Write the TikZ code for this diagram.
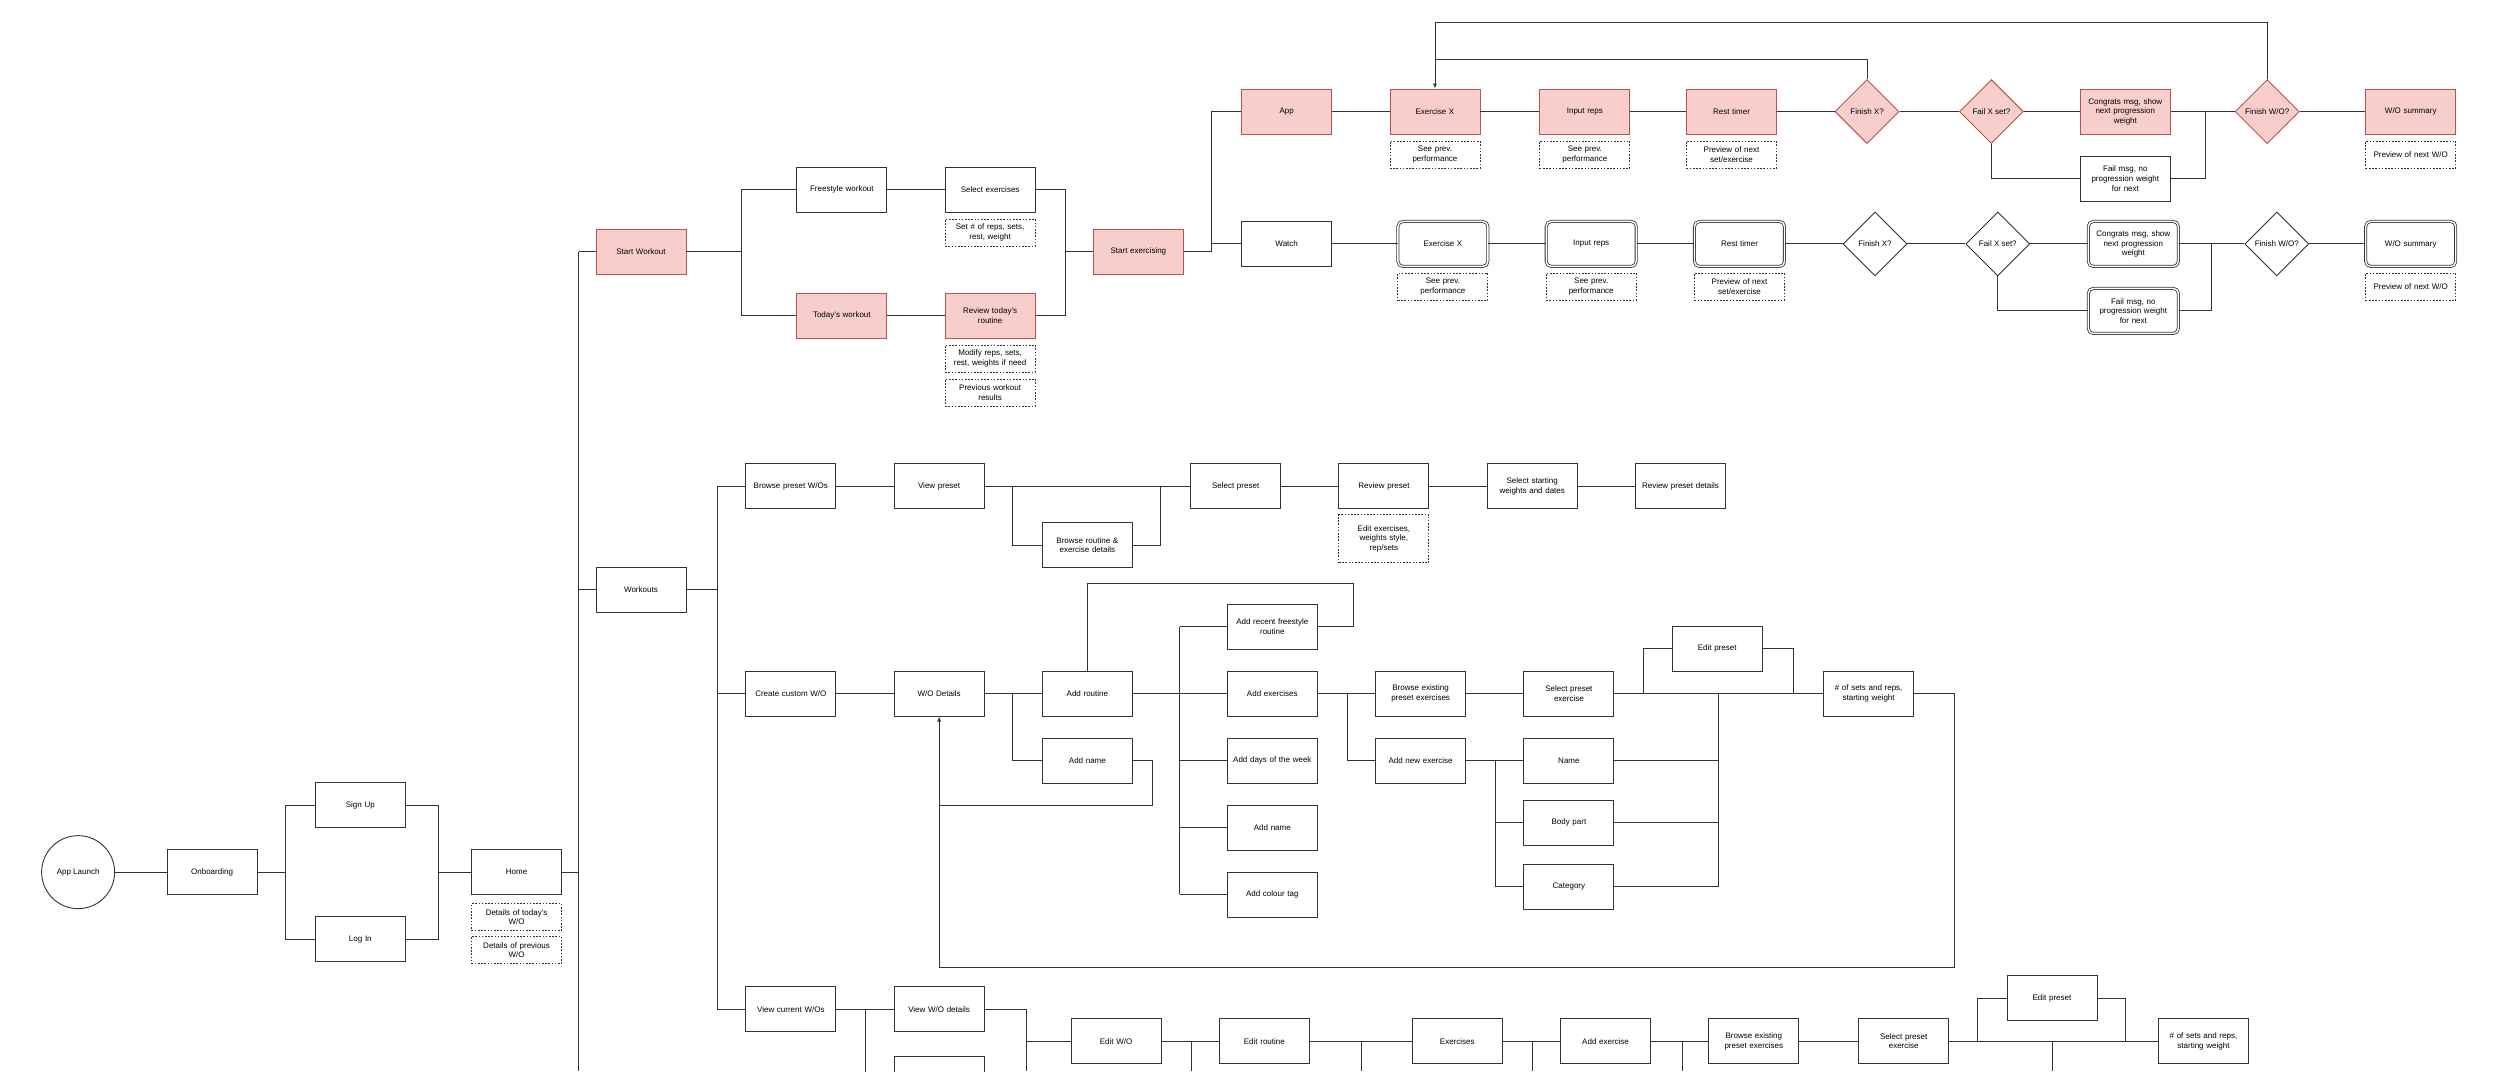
\documentclass[tikz,border=0pt]{standalone}
\usepackage{fontspec}
\setmainfont{Liberation Sans}
\usetikzlibrary{positioning}
\usetikzlibrary{shapes.geometric}
\usetikzlibrary{arrows.meta}

\definecolor{pinkfill}{HTML}{F8CECC}
\definecolor{pinkline}{HTML}{B85450}
\definecolor{linegray}{HTML}{333333}

\newcommand{\boxfont}{\fontsize{8}{9.6}\selectfont\hyphenpenalty=10000\relax\exhyphenpenalty=10000\relax}

\tikzset{
  box/.style={draw=linegray,fill=white,line width=0.9pt,minimum width=89pt,minimum height=45pt,inner sep=2pt,text width=86pt,align=center,font=\boxfont},
  pinkbox/.style={box,draw=pinkline,fill=pinkfill},
  dblbox/.style={box,double,double distance=1.4pt,line width=0.8pt,rounded corners=5pt},
  notebox/.style={box,dashed,dash pattern=on 1.6pt off 1.6pt,minimum height=27pt},
  decision/.style={draw=linegray,fill=white,line width=0.9pt,diamond,aspect=1,minimum width=64pt,minimum height=64pt,inner sep=0pt,font=\boxfont},
  pinkdecision/.style={decision,draw=pinkline,fill=pinkfill},
  link/.style={draw=linegray,line width=0.9pt},
}

\begin{document}
\begin{tikzpicture}[x=1.5944pt,y=-1.5944pt]
\useasboundingbox (0,0) rectangle (1568,672);
\begin{scope}
\clip (0,0) rectangle (1568,672);

% onboarding
\node[draw=linegray,line width=0.9pt,circle,minimum size=73pt,inner sep=0pt,font=\boxfont] (launch) at (49,547) {App Launch};
\node[box] (onb) at (133,547) {Onboarding};
\node[box] (signup) at (226,505) {Sign Up};
\node[box] (login) at (226,589) {Log In};
\node[box] (home) at (324,547) {Home};
\node[notebox,below=8pt of home] (homeA) {Details of today's\\W/O};
\node[notebox,below=5pt of homeA] (homeB) {Details of previous\\W/O};

% start workout
\node[pinkbox] (start) at (402,158) {Start Workout};
\node[box] (free) at (528,119) {Freestyle workout};
\node[pinkbox] (today) at (528,198) {Today's workout};
\node[box] (selex) at (621,119) {Select exercises};
\node[notebox,below=6pt of selex] (selexN) {Set \# of reps, sets,\\rest, weight};
\node[pinkbox] (revtoday) at (621,198) {Review today's\\routine};
\node[notebox,below=6pt of revtoday] (revN1) {Modify reps, sets,\\rest, weights if need};
\node[notebox,below=6pt of revN1] (revN2) {Previous workout\\results};
\node[pinkbox] (startex) at (714,158) {Start exercising};

% app row
\node[pinkbox] (app) at (807,70) {App};
\node[pinkbox] (exA) at (900,70) {Exercise X};
\node[notebox,below=6pt of exA] (exAN) {See prev.\\performance};
\node[pinkbox] (inA) at (994,70) {Input reps};
\node[notebox,below=6pt of inA] (inAN) {See prev.\\performance};
\node[pinkbox] (restA) at (1086,70) {Rest timer};
\node[notebox,below=6pt of restA] (restAN) {Preview of next\\set/exercise};
\node[pinkdecision] (finA) at (1171,70) {Finish X?};
\node[pinkdecision] (failA) at (1249,70) {Fail X set?};
\node[pinkbox] (congA) at (1333,70) {Congrats msg, show\\next progression\\weight};
\node[box] (fmsgA) at (1333,112) {Fail msg, no\\progression weight\\for next};
\node[pinkdecision] (fwoA) at (1422,70) {Finish W/O?};
\node[pinkbox] (sumA) at (1512,70) {W/O summary};
\node[notebox,below=6pt of sumA] (sumAN) {Preview of next W/O};

% watch row
\node[box] (watch) at (807,153) {Watch};
\node[dblbox] (exB) at (905,153) {Exercise X};
\node[notebox,below=6pt of exB] (exBN) {See prev.\\performance};
\node[dblbox] (inB) at (998,153) {Input reps};
\node[notebox,below=6pt of inB] (inBN) {See prev.\\performance};
\node[dblbox] (restB) at (1091,153) {Rest timer};
\node[notebox,below=6pt of restB] (restBN) {Preview of next\\set/exercise};
\node[decision] (finB) at (1176,153) {Finish X?};
\node[decision] (failB) at (1253,153) {Fail X set?};
\node[dblbox] (congB) at (1338,153) {Congrats msg, show\\next progression\\weight};
\node[dblbox] (fmsgB) at (1338,195) {Fail msg, no\\progression weight\\for next};
\node[decision] (fwoB) at (1428,153) {Finish W/O?};
\node[dblbox] (sumB) at (1512,153) {W/O summary};
\node[notebox,below=6pt of sumB] (sumBN) {Preview of next W/O};

% workouts
\node[box] (workouts) at (402,370) {Workouts};
\node[box] (bpre) at (496,305) {Browse preset W/Os};
\node[box] (vpre) at (589,305) {View preset};
\node[box] (broutine) at (682,342) {Browse routine \&\\exercise details};
\node[box] (spre) at (775,305) {Select preset};
\node[box] (rpre) at (868,305) {Review preset};
\node[notebox,below=5pt of rpre,minimum height=48pt] (rpreN) {Edit exercises,\\weights style,\\rep/sets};
\node[box] (sstart) at (961,305) {Select starting\\weights and dates};
\node[box] (rdet) at (1054,305) {Review preset details};

\node[box] (custom) at (496,435) {Create custom W/O};
\node[box] (wod) at (589,435) {W/O Details};
\node[box] (addr) at (682,435) {Add routine};
\node[box] (addn) at (682,477) {Add name};
\node[box] (arecent) at (798,393) {Add recent freestyle\\routine};
\node[box] (aex) at (798,435) {Add exercises};
\node[box] (adays) at (798,477) {Add days of the week};
\node[box] (aname) at (798,519) {Add name};
\node[box] (acol) at (798,561) {Add colour tag};
\node[box] (bexist) at (891,435) {Browse existing\\preset exercises};
\node[box] (anew) at (891,477) {Add new exercise};
\node[box] (spex) at (984,435) {Select preset\\exercise};
\node[box] (epre) at (1077,407) {Edit preset};
\node[box] (setsA) at (1172,435) {\# of sets and reps,\\starting weight};
\node[box] (nname) at (984,477) {Name};
\node[box] (nbody) at (984,516) {Body part};
\node[box] (ncat) at (984,556) {Category};

% view current
\node[box] (vcur) at (496,633) {View current W/Os};
\node[box] (vdet) at (589,633) {View W/O details};
\node[box] (vdup) at (589,677) {};
\node[box] (ewo) at (700,653) {Edit W/O};
\node[box] (erou) at (793,653) {Edit routine};
\node[box] (exs) at (914,653) {Exercises};
\node[box] (addex) at (1007,653) {Add exercise};
\node[box] (bexB) at (1100,653) {Browse existing\\preset exercises};
\node[box] (spexB) at (1194,653) {Select preset\\exercise};
\node[box] (epreB) at (1287,626) {Edit preset};
\node[box] (setsB) at (1382,653) {\# of sets and reps,\\starting weight};

% junctions
\coordinate (jOn) at (179,547);
\coordinate (jHome) at (275,547);
\coordinate (trTop) at (363,158);
\coordinate (trBot) at (363,672);
\coordinate (jStart) at (465,158);
\coordinate (jEx) at (668,158);
\coordinate (jApp) at (760,158);
\coordinate (jCongA) at (1383,70);
\coordinate (jCongB) at (1387,153);
\coordinate (loopTop) at (900,14);
\coordinate (loopMid) at (900,37);
\coordinate (jWork) at (450,370);
\coordinate (jView) at (635,305);
\coordinate (jBr) at (728,305);
\coordinate (jWod) at (635,435);
\coordinate (jName) at (723,505);
\coordinate (jBack) at (589,505);
\coordinate (jLoop) at (849,366);
\coordinate (jAdd) at (740,435);
\coordinate (jAex) at (845,435);
\coordinate (jEdit) at (1031,435);
\coordinate (jEdit2) at (1125,435);
\coordinate (jFields) at (1078,435);
\coordinate (jNew) at (938,477);
\coordinate (jSetsR) at (1226,607);
\coordinate (jCur) at (543,633);
\coordinate (jVdet) at (644,653);
\coordinate (jEwo) at (747,653);
\coordinate (jErou) at (854,653);
\coordinate (jExs) at (961,653);
\coordinate (jAddex) at (1055,653);
\coordinate (jEpB) at (1240,653);
\coordinate (jEpB2) at (1333,653);

% onboarding links
\draw[link] (launch) -- (onb);
\draw[link] (onb) -- (jOn);
\draw[link] (jOn) |- (signup);
\draw[link] (jOn) |- (login);
\draw[link] (signup) -| (jHome);
\draw[link] (login) -| (jHome);
\draw[link] (jHome) -- (home);
\draw[link] (home) -- (home -| trTop);
\draw[link] (trTop) -- (trBot);

% start workout links
\draw[link] (trTop) -- (start);
\draw[link] (start) -- (jStart);
\draw[link] (jStart) |- (free);
\draw[link] (jStart) |- (today);
\draw[link] (free) -- (selex);
\draw[link] (today) -- (revtoday);
\draw[link] (selex) -| (jEx);
\draw[link] (revtoday) -| (jEx);
\draw[link] (jEx) -- (startex);
\draw[link] (startex) -- (jApp);
\draw[link] (jApp) |- (app);
\draw[link] (jApp) |- (watch);

% app row links
\draw[link] (app) -- (exA);
\draw[link] (exA) -- (inA);
\draw[link] (inA) -- (restA);
\draw[link] (restA) -- (finA);
\draw[link] (finA) -- (failA);
\draw[link] (failA) -- (congA);
\draw[link] (failA.south) |- (fmsgA);
\draw[link] (congA) -- (jCongA);
\draw[link] (fmsgA) -| (jCongA);
\draw[link] (jCongA) -- (fwoA);
\draw[link] (fwoA) -- (sumA);
\draw[link,-{Latex[length=5pt,width=4pt]}] (fwoA.north) |- (loopTop) -- (exA.north);
\draw[link] (finA.north) |- (loopMid);

% watch row links
\draw[link] (watch) -- (exB);
\draw[link] (exB) -- (inB);
\draw[link] (inB) -- (restB);
\draw[link] (restB) -- (finB);
\draw[link] (finB) -- (failB);
\draw[link] (failB) -- (congB);
\draw[link] (failB.south) |- (fmsgB);
\draw[link] (congB) -- (jCongB);
\draw[link] (fmsgB) -| (jCongB);
\draw[link] (jCongB) -- (fwoB);
\draw[link] (fwoB) -- (sumB);

% workouts links
\draw[link] (workouts) -- (workouts -| trTop);
\draw[link] (workouts) -- (jWork);
\draw[link] (jWork |- bpre) -- (jWork |- vcur);
\draw[link] (jWork |- bpre) -- (bpre);
\draw[link] (jWork |- custom) -- (custom);
\draw[link] (jWork |- vcur) -- (vcur);

\draw[link] (bpre) -- (vpre);
\draw[link] (vpre) -- (spre);
\draw[link] (jView) |- (broutine);
\draw[link] (broutine) -| (jBr);
\draw[link] (spre) -- (rpre);
\draw[link] (rpre) -- (sstart);
\draw[link] (sstart) -- (rdet);

\draw[link] (custom) -- (wod);
\draw[link] (wod) -- (addr);
\draw[link] (jWod) |- (addn);
\draw[link] (addn) -| (jName) |- (jBack);
\draw[link,-{Latex[length=5pt,width=4pt]}] (wod |- jSetsR) -- (wod.south);
\draw[link] (addr.north) |- (jLoop) |- (arecent);
\draw[link] (addr) -- (aex);
\draw[link] (jAdd |- arecent) -- (jAdd |- acol);
\draw[link] (jAdd |- arecent) -- (arecent);
\draw[link] (jAdd |- adays) -- (adays);
\draw[link] (jAdd |- aname) -- (aname);
\draw[link] (jAdd |- acol) -- (acol);
\draw[link] (aex) -- (bexist);
\draw[link] (jAex) |- (anew);
\draw[link] (bexist) -- (spex);
\draw[link] (spex) -- (setsA);
\draw[link] (jEdit) |- (epre);
\draw[link] (epre) -| (jEdit2);
\draw[link] (anew) -- (nname);
\draw[link] (jNew) |- (nbody);
\draw[link] (jNew) |- (ncat);
\draw[link] (nname) -| (jFields);
\draw[link] (nbody) -| (jFields);
\draw[link] (ncat) -| (jFields);
\draw[link] (setsA) -| (jSetsR) -- (wod |- jSetsR);

% view current links
\draw[link] (vcur) -- (vdet);
\draw[link] (jCur) |- (vdup);
\draw[link] (vdet) -| (jVdet);
\draw[link] (jVdet |- vdet) -- (jVdet |- trBot);
\draw[link] (jVdet) -- (ewo);
\draw[link] (ewo) -- (erou);
\draw[link] (jEwo) -- (jEwo |- trBot);
\draw[link] (erou) -- (exs);
\draw[link] (jErou) -- (jErou |- trBot);
\draw[link] (exs) -- (addex);
\draw[link] (jExs) -- (jExs |- trBot);
\draw[link] (addex) -- (bexB);
\draw[link] (jAddex) -- (jAddex |- trBot);
\draw[link] (bexB) -- (spexB);
\draw[link] (spexB) -- (setsB);
\draw[link] (jEpB) |- (epreB);
\draw[link] (epreB) -| (jEpB2);
\draw[link] (epreB |- setsB) -- (epreB |- trBot);
\end{scope}
\end{tikzpicture}
\end{document}
